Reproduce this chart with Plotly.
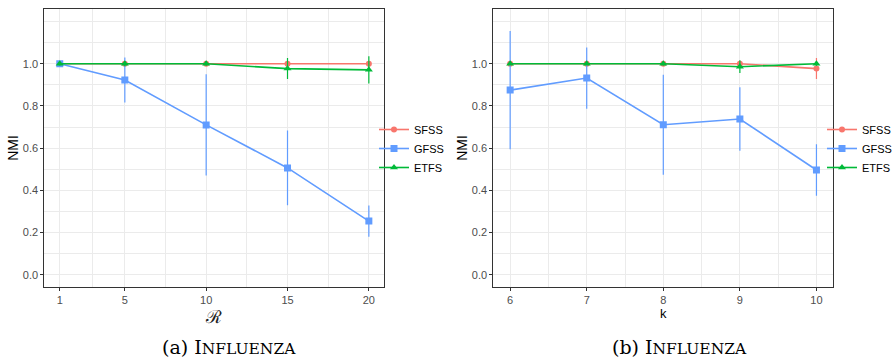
import plotly.graph_objects as go

# ---------------- data ----------------
r_vals = [1, 5, 10, 15, 20]
k_vals = [6, 7, 8, 9, 10]
series_names = ["SFSS", "GFSS", "ETFS"]

sfss_r = [1.0, 1.0, 1.0, 1.0, 1.0]
sfss_r_err = [0.0, 0.003, 0.003, 0.005, 0.005]
gfss_r = [1.0, 0.923, 0.710, 0.506, 0.254]
gfss_r_err = [0.0, 0.107, 0.240, 0.177, 0.074]
etfs_r = [1.0, 1.0, 1.0, 0.977, 0.971]
etfs_r_err = [0.008, 0.012, 0.010, 0.050, 0.065]

sfss_k = [1.0, 1.0, 1.0, 1.0, 0.977]
sfss_k_err = [0.0, 0.0, 0.0, 0.005, 0.050]
gfss_k = [0.875, 0.932, 0.711, 0.738, 0.496]
gfss_k_err = [0.280, 0.145, 0.237, 0.150, 0.122]
etfs_k = [1.0, 1.0, 1.0, 0.986, 1.0]
etfs_k_err = [0.005, 0.005, 0.008, 0.030, 0.010]

y_ticks = [0.0, 0.2, 0.4, 0.6, 0.8, 1.0]
y_minor = [0.1, 0.3, 0.5, 0.7, 0.9, 1.1, 1.2]
r_minor = [3, 7.5, 12.5, 17.5]
k_minor = [6.5, 7.5, 8.5, 9.5]

colors = ["#F8766D", "#619CFF", "#00BA38"]
symbols = ["circle", "square", "triangle-up"]
sizes = [6, 7, 7]

W, H = 895, 362
fig = go.Figure()

panel_a = [(sfss_r, sfss_r_err), (gfss_r, gfss_r_err), (etfs_r, etfs_r_err)]
panel_b = [(sfss_k, sfss_k_err), (gfss_k, gfss_k_err), (etfs_k, etfs_k_err)]

for i, (vals, err) in enumerate(panel_a):
    fig.add_trace(go.Scatter(
        x=r_vals, y=vals, name=series_names[i], mode="lines+markers",
        line=dict(color=colors[i], width=1.6),
        marker=dict(symbol=symbols[i], size=sizes[i], color=colors[i]),
        error_y=dict(type="data", array=err, visible=True, color=colors[i],
                     thickness=1.2, width=0),
        xaxis="x", yaxis="y", legend="legend"))

for i, (vals, err) in enumerate(panel_b):
    fig.add_trace(go.Scatter(
        x=k_vals, y=vals, name=series_names[i], mode="lines+markers",
        line=dict(color=colors[i], width=1.6),
        marker=dict(symbol=symbols[i], size=sizes[i], color=colors[i]),
        error_y=dict(type="data", array=err, visible=True, color=colors[i],
                     thickness=1.2, width=0),
        xaxis="x2", yaxis="y2", legend="legend2"))

grid_c = "#EBEBEB"
border_c = "#333333"
tick_font = dict(family="Liberation Sans, Arial, sans-serif", size=11, color="#4D4D4D")

def xax(domain, rng, tickvals, minor_vals, title, title_font, standoff):
    return dict(
        domain=domain, range=rng, tickvals=tickvals, ticks="outside", ticklen=3,
        tickcolor=border_c, tickwidth=1, tickfont=tick_font,
        showgrid=True, gridcolor=grid_c, gridwidth=1, zeroline=False,
        showline=True, mirror=True, linecolor=border_c, linewidth=1,
        minor=dict(tickvals=minor_vals, showgrid=True, gridcolor=grid_c,
                   gridwidth=0.8, ticks=""),
        title=dict(text=title, font=title_font, standoff=standoff))

def yax(domain, anchor):
    return dict(
        domain=domain, range=[-0.057, 1.258], tickvals=y_ticks,
        ticktext=[f"{v:.1f}" for v in y_ticks], ticks="outside", ticklen=3,
        tickcolor=border_c, tickwidth=1, tickfont=tick_font,
        showgrid=True, gridcolor=grid_c, gridwidth=1, zeroline=False,
        showline=True, mirror=True, linecolor=border_c, linewidth=1,
        minor=dict(tickvals=y_minor, showgrid=True, gridcolor=grid_c,
                   gridwidth=0.8, ticks=""),
        anchor=anchor,
        title=dict(text="NMI", font=dict(family="Liberation Sans, Arial, sans-serif",
                                         size=14, color="black"), standoff=0))

y_dom = [1 - 286.7 / H, 1 - 9.3 / H]
legend_font = dict(family="Liberation Sans, Arial, sans-serif", size=11, color="black")
caption_font = dict(family="DejaVu Serif, serif", size=19, color="black")
fig.update_layout(
    width=W, height=H,
    margin=dict(l=0, r=0, t=0, b=0, autoexpand=False),
    paper_bgcolor="white", plot_bgcolor="white",
    xaxis=xax([44.3 / W, 384.3 / W], [0.05, 20.95], r_vals, r_minor, "ℛ",
              dict(family="DejaVu Serif, serif", size=18, color="#222"), 1),
    yaxis=yax(y_dom, "x"),
    xaxis2=xax([493.3 / W, 833.3 / W], [5.78, 10.22], k_vals, k_minor, "k",
               dict(family="Liberation Sans, Arial, sans-serif", size=13, color="black"), 3),
    yaxis2=yax(y_dom, "x2"),
    legend=dict(x=374 / W, y=1 - 148.5 / H, xanchor="left", yanchor="middle",
                font=legend_font, bgcolor="rgba(0,0,0,0)", itemwidth=30, tracegroupgap=0),
    legend2=dict(x=822 / W, y=1 - 148.5 / H, xanchor="left", yanchor="middle",
                 font=legend_font, bgcolor="rgba(0,0,0,0)", itemwidth=30, tracegroupgap=0),
    annotations=[
        dict(text="(a) I<span style='font-size:15.5px'>NFLUENZA</span>",
             x=229 / W, y=1 - 347 / H, xref="paper", yref="paper",
             xanchor="center", yanchor="middle", showarrow=False, font=caption_font),
        dict(text="(b) I<span style='font-size:15.5px'>NFLUENZA</span>",
             x=679 / W, y=1 - 347 / H, xref="paper", yref="paper",
             xanchor="center", yanchor="middle", showarrow=False, font=caption_font),
    ],
)

fig.write_html("out.html")
